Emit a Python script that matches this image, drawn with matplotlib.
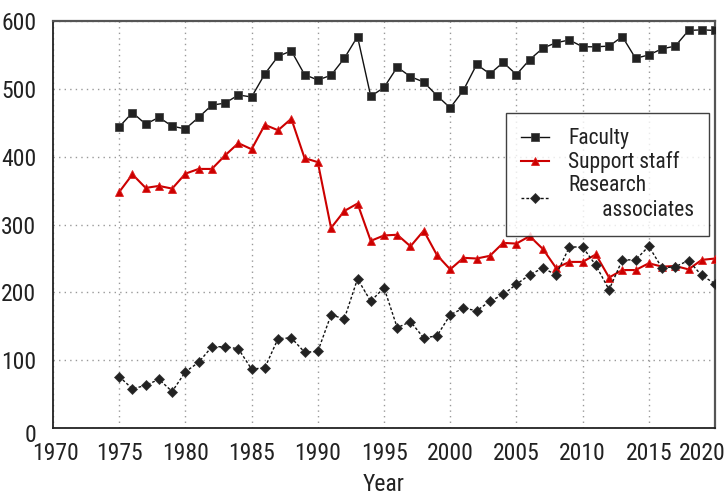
import matplotlib
matplotlib.use("Agg")
import matplotlib.pyplot as plt
from matplotlib import font_manager
from matplotlib.font_manager import FontProperties
import matplotlib.transforms as mtransforms

years = list(range(1975, 2021))
faculty = [444, 465, 448, 458, 445, 441, 458, 476, 479, 491, 488, 522, 548, 556, 521,
           513, 520, 545, 577, 489, 502, 532, 518, 510, 490, 472, 498, 536, 522, 539,
           521, 543, 560, 568, 572, 562, 562, 563, 577, 545, 550, 559, 563, 586, 587, 586]
support = [348, 374, 354, 357, 353, 375, 382, 382, 402, 420, 411, 447, 439, 456, 398,
           392, 295, 320, 331, 276, 284, 285, 268, 291, 255, 234, 251, 250, 254, 273,
           272, 283, 264, 236, 245, 245, 256, 222, 233, 233, 243, 238, 239, 234, 248, 250]
research = [76, 58, 63, 72, 54, 83, 97, 120, 120, 117, 87, 89, 132, 133, 112,
            113, 167, 161, 220, 187, 207, 148, 157, 133, 136, 167, 177, 173, 187, 197,
            212, 226, 236, 226, 267, 267, 240, 204, 248, 248, 268, 236, 238, 247, 225, 213]
xticks = list(range(1970, 2021, 5))
yticks = list(range(0, 601, 100))
labels = ["Faculty", "Support staff", "Research\n       associates"]

# look for a narrow font file
paths = [f.fname for f in font_manager.fontManager.ttflist]
extra = font_manager.findSystemFonts()
allpaths = list(dict.fromkeys(paths + extra))
prefs = ["LiberationSansNarrow-Regular", "ArialNarrow", "RobotoCondensed-Regular",
         "Roboto_Condensed-Regular", "OpenSans_Condensed-Regular", "OpenSansCondensed",
         "DejaVuSansCondensed.ttf"]
chosen = None
for p in prefs:
    for path in allpaths:
        if p.lower() in path.replace(" ", "").lower():
            chosen = path
            break
    if chosen:
        break
if chosen is None:
    for path in allpaths:
        low = path.lower()
        if ("condensed" in low or "narrow" in low) and "bold" not in low and "italic" not in low \
                and "oblique" not in low and "light" not in low:
            chosen = path
            break


def fp(size):
    if chosen:
        return FontProperties(fname=chosen, size=size)
    return FontProperties(family="DejaVu Sans", size=size)


fig = plt.figure(figsize=(7.27, 4.95), dpi=100)
ax = fig.add_axes([0.0729, 0.135, 0.9835 - 0.0729, 0.9576 - 0.135])

ax.plot(years, faculty, color='#111111', lw=1.0, marker='s', markersize=5.2,
        markerfacecolor='#222222', markeredgecolor='#444444', markeredgewidth=0.6,
        label=labels[0], zorder=3)
ax.plot(years, support, color='#cc0000', lw=1.5, marker='^', markersize=6.2,
        markerfacecolor='#cc0000', markeredgecolor='#dd2222', markeredgewidth=0.6,
        label=labels[1], zorder=3)
ax.plot(years, research, color='#111111', lw=1.0, linestyle=(0, (2, 1.5)), marker='D',
        markersize=5.5, markerfacecolor='#222222', markeredgecolor='#333333',
        markeredgewidth=0.5, label=labels[2], zorder=3)

ax.set_xlim(1970, 2020)
ax.set_ylim(0, 600)
ax.set_xticks(xticks)
ax.set_yticks(yticks)
ax.grid(True, color='#999999', linestyle=(0, (1, 3)), lw=1.0)
ax.tick_params(axis='both', length=0, colors='#222222')
ax.tick_params(axis='x', pad=10)
ax.tick_params(axis='y', pad=12)
for lab in ax.get_xticklabels() + ax.get_yticklabels():
    lab.set_fontproperties(fp(17))

# nudge the edge labels like the reference
xl = ax.get_xticklabels()
xl[0].set_transform(xl[0].get_transform() + mtransforms.ScaledTranslation(3 / 100, 0, fig.dpi_scale_trans))
xl[-1].set_transform(xl[-1].get_transform() + mtransforms.ScaledTranslation(-13 / 100, 0, fig.dpi_scale_trans))
yl = ax.get_yticklabels()
yl[0].set_transform(yl[0].get_transform() + mtransforms.ScaledTranslation(0, -5 / 100, fig.dpi_scale_trans))

for s in ['left', 'bottom']:
    ax.spines[s].set_color('#222222')
    ax.spines[s].set_linewidth(1.3)
for s in ['top', 'right']:
    ax.spines[s].set_color('#555555')
    ax.spines[s].set_linewidth(1.6)

ax.set_xlabel("Year", fontproperties=fp(17), color='#222222', labelpad=6)

leg = ax.legend(loc='upper left', bbox_to_anchor=(0.684, 0.774), borderaxespad=0,
                prop=fp(15.5), frameon=True, fancybox=False, edgecolor='#111111',
                handlelength=1.3, handletextpad=0.9, labelspacing=0.1, borderpad=0.7)
leg.get_frame().set_linewidth(1.0)
for t in leg.get_texts():
    t.set_color('#222222')

fig.savefig("out.png", dpi=100)
